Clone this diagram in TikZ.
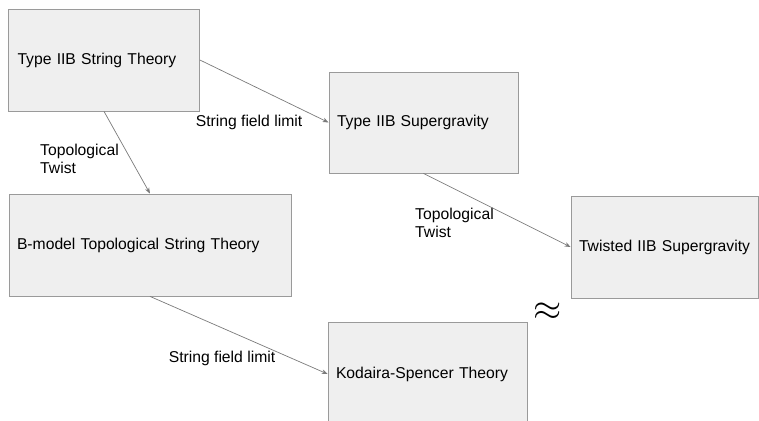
\documentclass[tikz,border=0pt]{standalone}
\usepackage{fontspec}
\usepackage{graphicx}
\setmainfont{Liberation Sans}
\usetikzlibrary{arrows.meta}
\definecolor{boxfill}{HTML}{EFEFEF}
\definecolor{boxline}{HTML}{9A9A9A}
\definecolor{arrowc}{HTML}{7A7A7A}
\begin{document}
\begin{tikzpicture}[x=1pt,y=-1pt,
  theory/.style={draw=boxline, fill=boxfill, line width=0.8pt, rectangle, align=left,
    inner xsep=8pt, inner ysep=0pt, font=\fontsize{15.7}{19}\selectfont},
  lbl/.style={inner sep=0pt, align=left, font=\fontsize{15.7}{18}\selectfont},
  link/.style={draw=arrowc, line width=0.7pt, -{Stealth[length=6pt,width=4.5pt]}}]
\useasboundingbox (0,0) rectangle (759,420);
\node[theory, text width=173pt, minimum height=102pt, inner xsep=9pt] (A) at (104,60) {Type IIB String Theory};
\node[theory, text width=173pt, minimum height=101pt] (B) at (423.5,122.5) {Type IIB Supergravity};
\node[theory, text width=171pt, minimum height=102pt] (C) at (664.5,247) {\mbox{Twisted IIB Supergravity}};
\node[theory, text width=266pt, minimum height=102pt] (D) at (150,245) {B-model Topological String Theory};
\node[theory, text width=183pt, minimum height=104pt] (E) at (427.5,374) {Kodaira-Spencer Theory};
\node[lbl] (l1) at (249,122) {String field limit};
\node[lbl, anchor=west] (l2) at (40,159) {Topological\\Twist};
\node[lbl, anchor=west] (l3) at (415,222.5) {Topological\\Twist};
\node[lbl] (l4) at (222,358) {String field limit};
\node[inner sep=0pt, font=\fontsize{20}{20}\selectfont] (eq) at (548,312) {\scalebox{1.75}{$\approx$}};
\draw[link] (A.east) -- (B.west);
\draw[link] (A.south) -- (D.north);
\draw[link] (B.south) -- (C.west);
\draw[link] (D.south) -- (E.west);
\end{tikzpicture}
\end{document}
